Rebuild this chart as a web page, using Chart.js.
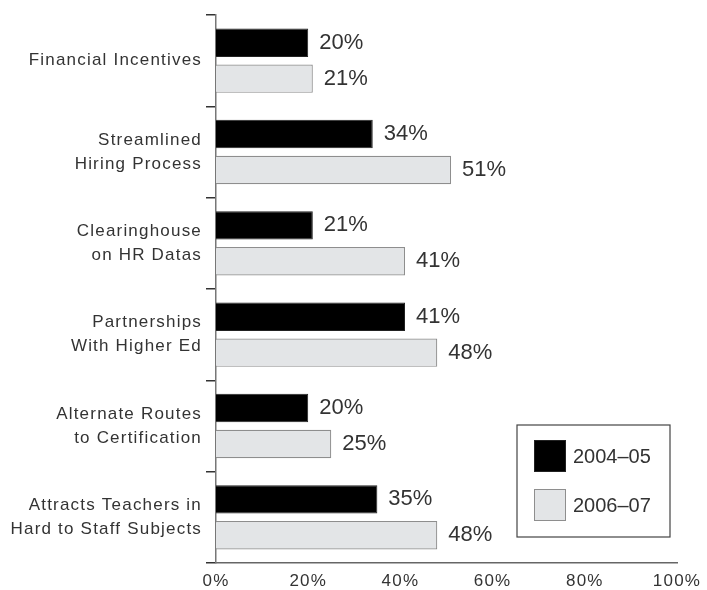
<!DOCTYPE html>
<html>
<head>
<meta charset="utf-8">
<script src="https://cdn.jsdelivr.net/npm/chart.js@4/dist/chart.umd.min.js"></script>
<style>
    body { margin: 0; background: #fff; }
    #wrap { width: 707px; height: 590px; position: relative; }
</style>
</head>
<body>
<div id="wrap"><canvas id="barChart"></canvas></div>
<script>
const categories = [
    'Financial Incentives',
    ['Streamlined', 'Hiring Process'],
    ['Clearinghouse', 'on HR Datas'],
    ['Partnerships', 'With Higher Ed'],
    ['Alternate Routes', 'to Certification'],
    ['Attracts Teachers in', 'Hard to Staff Subjects']
];
const seriesNames = ['2004\u201305', '2006\u201307'];
const values0405 = [20, 34, 21, 41, 20, 35];
const values0607 = [21, 51, 41, 48, 25, 48];
const xTicks = [0, 20, 40, 60, 80, 100];

const FONT = '"Liberation Sans", Arial, sans-serif';
const TEXT = '#333';

// y labels in the picture are a bit tracked out
const spacing = {
    id: 'spacing',
    beforeDraw(chart) { chart.ctx.letterSpacing = '1.2px'; },
    beforeDatasetsDraw(chart) { chart.ctx.letterSpacing = '0px'; }
};

const valueLabels = {
    id: 'valueLabels',
    afterDatasetsDraw(chart) {
        const ctx = chart.ctx;
        ctx.save();
        ctx.letterSpacing = '0px';
        ctx.font = '22px ' + FONT;
        ctx.fillStyle = TEXT;
        ctx.textAlign = 'left';
        ctx.textBaseline = 'middle';
        chart.data.datasets.forEach((ds, i) => {
            chart.getDatasetMeta(i).data.forEach((bar, j) => {
                ctx.fillText(ds.data[j] + '%', bar.x + 11, bar.y);
            });
        });
        ctx.restore();
    }
};

const boxLegend = {
    id: 'boxLegend',
    afterDraw(chart) {
        const ctx = chart.ctx;
        const a = chart.chartArea;
        const bx = a.right - 160, by = a.bottom - 138, bw = 153, bh = 112;
        ctx.save();
        ctx.letterSpacing = '0px';
        ctx.fillStyle = '#fff';
        ctx.fillRect(bx, by, bw, bh);
        ctx.strokeStyle = '#444';
        ctx.lineWidth = 1.2;
        ctx.strokeRect(bx, by, bw, bh);
        ctx.font = '20px ' + FONT;
        ctx.textBaseline = 'middle';
        chart.data.datasets.forEach((ds, i) => {
            const sy = by + 15 + i * 49;
            ctx.fillStyle = ds.backgroundColor;
            ctx.fillRect(bx + 17, sy, 32, 32);
            ctx.strokeStyle = ds.borderColor;
            ctx.lineWidth = 1;
            ctx.strokeRect(bx + 17.5, sy + 0.5, 31, 31);
            ctx.fillStyle = TEXT;
            ctx.fillText(ds.label, bx + 56, sy + 17);
        });
        ctx.restore();
    }
};

new Chart(document.getElementById('barChart'), {
    type: 'bar',
    data: {
        labels: categories,
        datasets: [
            { label: seriesNames[0], data: values0405, backgroundColor: '#000', borderColor: '#222', borderWidth: 1 },
            { label: seriesNames[1], data: values0607, backgroundColor: '#e3e5e7', borderColor: '#8e8e8e', borderWidth: 1.2 }
        ]
    },
    options: {
        indexAxis: 'y',
        responsive: true,
        maintainAspectRatio: false,
        animation: false,
        categoryPercentage: 0.787,
        barPercentage: 0.79,
        layout: { padding: { top: 15, right: 30, left: 0, bottom: 0 } },
        plugins: {
            legend: { display: false },
            tooltip: { enabled: false }
        },
        scales: {
            x: {
                min: 0,
                max: 100,
                afterBuildTicks(scale) { scale.ticks = xTicks.map(v => ({ value: v })); },
                afterFit(scale) { scale.height = 27; },
                grid: { display: false, drawTicks: false },
                border: { display: true, color: '#666', width: 1.5 },
                ticks: {
                    padding: 8,
                    color: TEXT,
                    font: { family: FONT, size: 17 },
                    callback: v => v + '%'
                }
            },
            y: {
                afterFit(scale) {
                    scale.width = 216;
                    scale.paddingTop = 0;
                    scale.paddingBottom = 0;
                },
                grid: {
                    offset: true,
                    drawOnChartArea: false,
                    drawTicks: true,
                    tickLength: 10,
                    color: '#333',
                    lineWidth: 1.5
                },
                border: { display: true, color: '#777', width: 1.5 },
                ticks: {
                    padding: 4,
                    color: TEXT,
                    font: { family: FONT, size: 17, lineHeight: 1.4 }
                }
            }
        }
    },
    plugins: [spacing, valueLabels, boxLegend]
});
</script>
</body>
</html>
